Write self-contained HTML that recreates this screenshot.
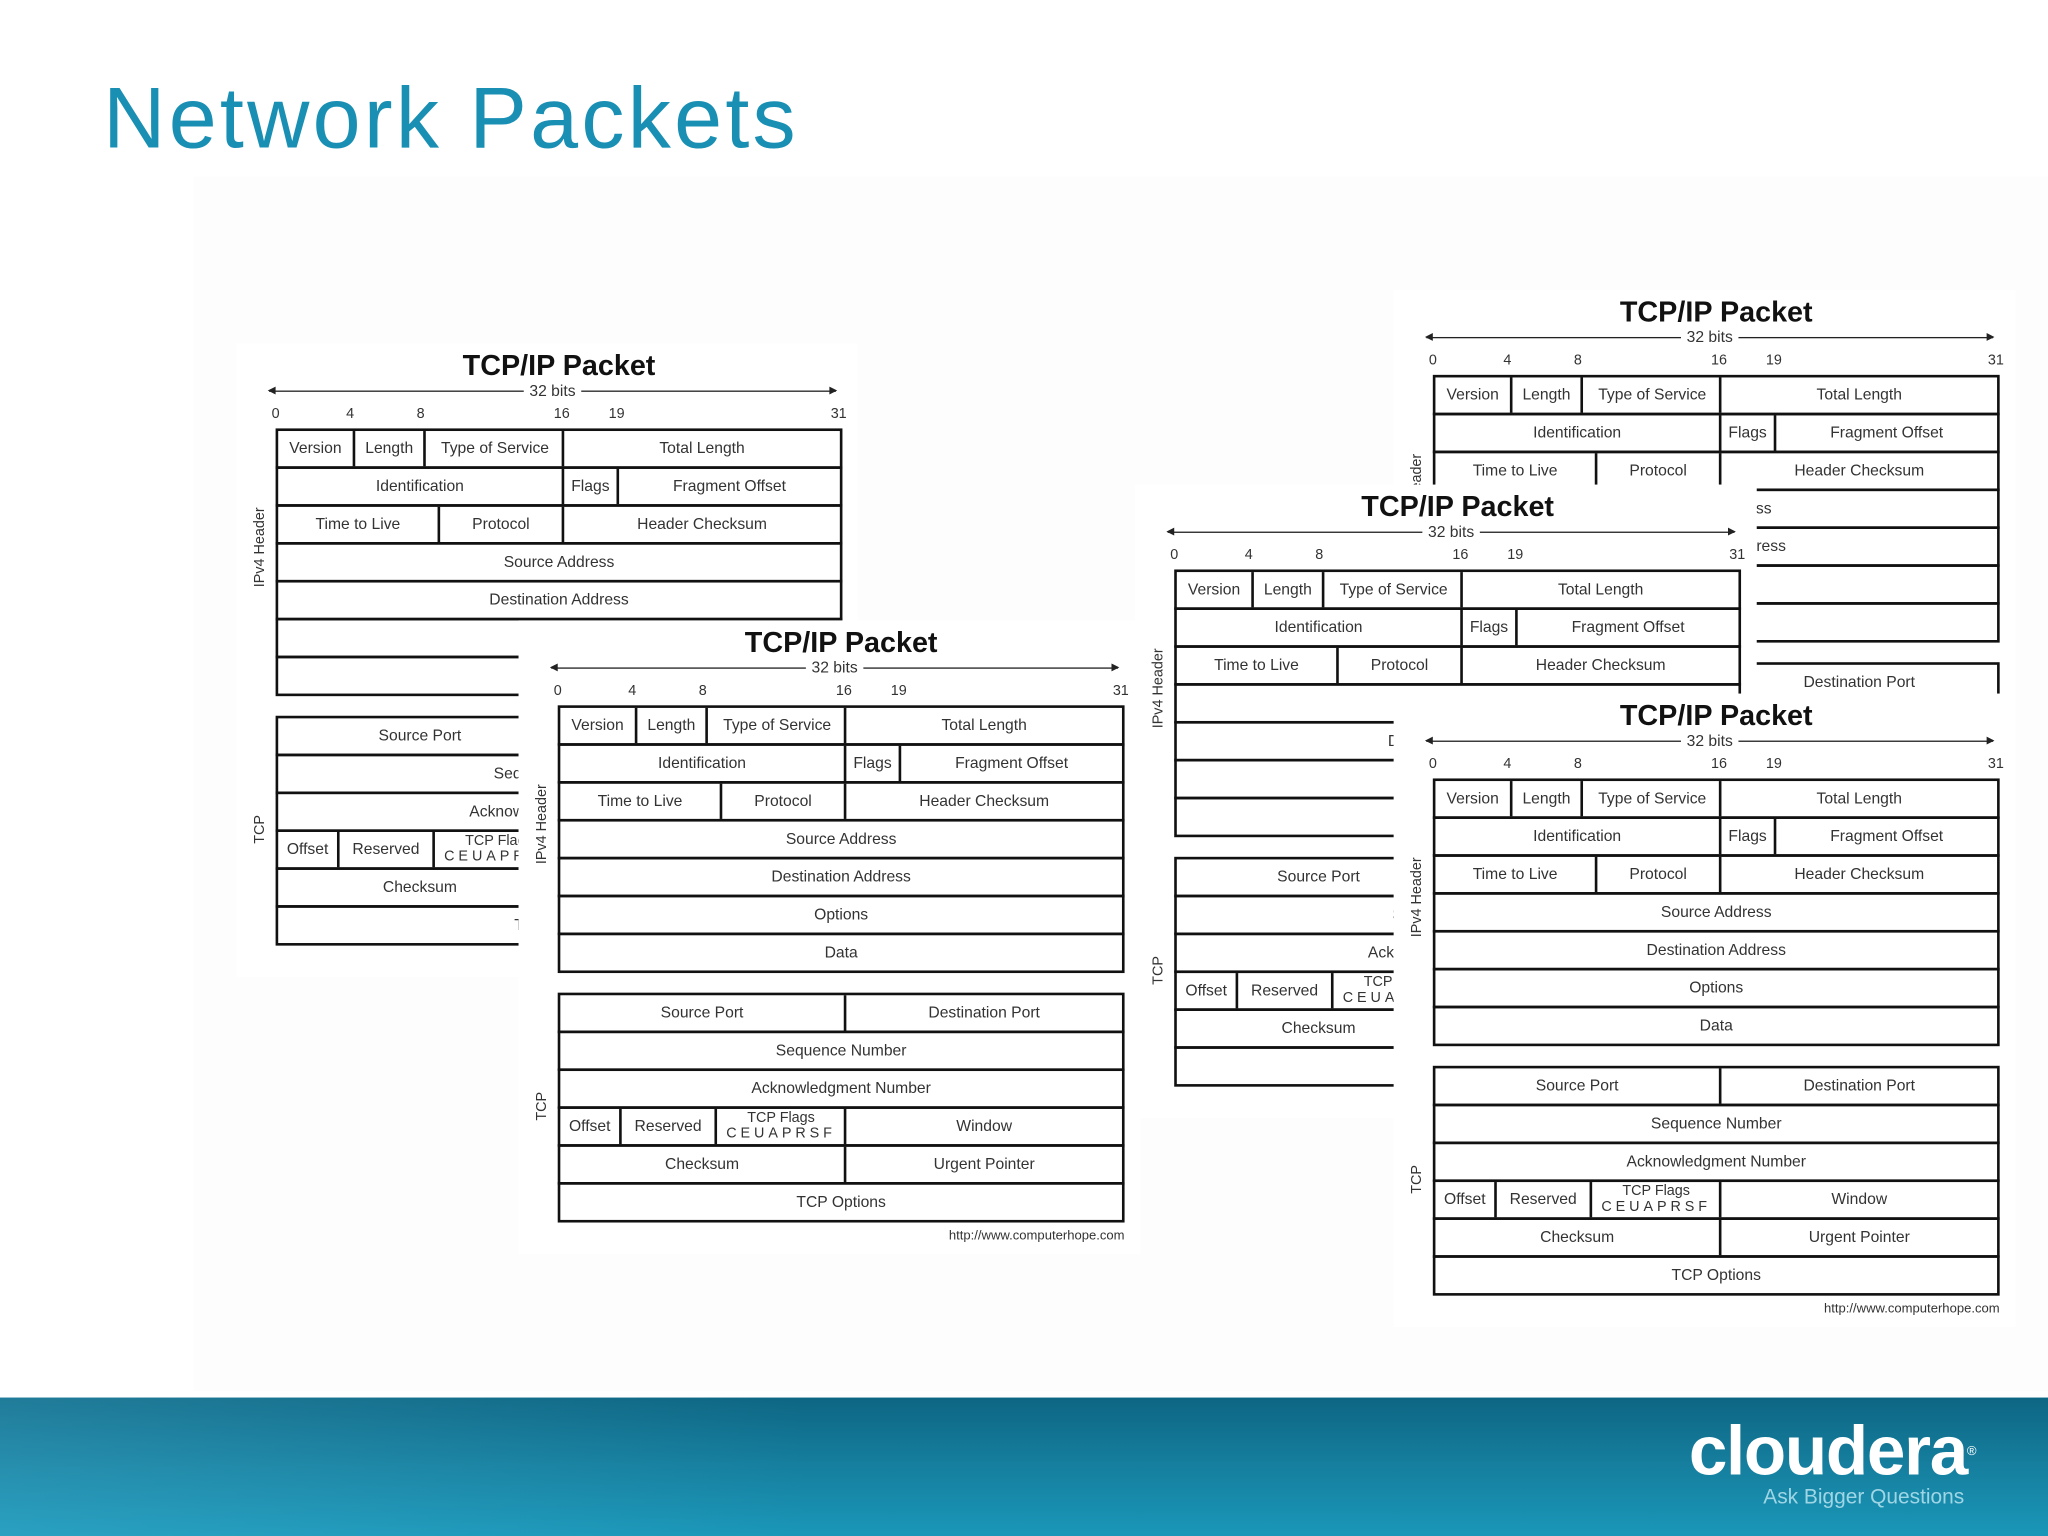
<!DOCTYPE html>
<html><head><meta charset="utf-8">
<style>
html,body{margin:0;padding:0;background:#fff;}
body{width:2048px;height:1536px;overflow:hidden;position:relative;}
#s{position:absolute;left:0;top:0;width:1568px;height:1176px;transform:scale(1.306122);transform-origin:0 0;font-family:"Liberation Sans",Arial,sans-serif;}
h1{position:absolute;left:79px;top:52px;margin:0;font-weight:normal;font-size:66px;letter-spacing:2.5px;line-height:76px;color:#1a8fb4;}
.bg{position:absolute;left:148px;top:135px;width:1420px;height:930px;background:#fdfdfe;}
.p{position:absolute;width:476px;height:485px;background:#fff;color:#333;}
.t{position:absolute;left:30px;top:4px;width:434px;text-align:center;font-weight:bold;font-size:22px;line-height:26px;color:#111;}
.ar{position:absolute;left:25px;top:36px;width:434px;height:0;border-top:1px solid #222;}
.ar:before{content:"";position:absolute;left:-1px;top:-4px;border:3px solid transparent;border-right:6px solid #222;border-left:0;}
.ar:after{content:"";position:absolute;right:-1px;top:-4px;border:3px solid transparent;border-left:6px solid #222;border-right:0;}
.ab{position:absolute;left:0;top:29px;width:484px;text-align:center;font-size:12px;line-height:14px;}
.ab span{background:#fff;padding:0 4px;}
.b{position:absolute;top:48px;font-size:11px;line-height:12px;}
.r{position:absolute;left:30px;width:434px;height:31px;box-sizing:border-box;border:2px solid #111;}
.c{position:absolute;top:0;height:27px;line-height:27px;text-align:center;font-size:12px;white-space:nowrap;overflow:hidden;box-sizing:border-box;}
.c.l{border-left:2px solid #111;}
.v{position:absolute;font-size:11px;transform:rotate(-90deg);transform-origin:center;white-space:nowrap;text-align:center;width:120px;left:-42px;}
.u{position:absolute;right:12px;top:466px;font-size:10px;}
.fl{line-height:12px;font-size:11px;padding-top:1px;}
.fl div{font-size:11px;letter-spacing:3px;}
.ft{position:absolute;left:0;top:1070px;width:1568px;height:106px;background:linear-gradient(180deg,#0d6683,#167f9f 50%,#1a97b8);}
.pat{position:absolute;left:0;top:0;width:620px;height:106px;background:linear-gradient(90deg,rgba(90,190,220,.25),rgba(90,190,220,0));}
.lg{position:absolute;left:1293px;top:1081px;color:#fff;font-weight:bold;font-size:53px;line-height:62px;letter-spacing:-1px;}
.tg{position:absolute;left:1350px;top:1137px;color:#9fd6e6;font-size:16px;line-height:20px;}
</style></head><body><div id="s">
<h1>Network Packets</h1>
<div class="bg"></div>

<!-- P4 top right -->
<div class="p" style="left:1067px;top:222px">
<div class="t">TCP/IP Packet</div><div class="ar"></div><div class="ab"><span>32 bits</span></div>
<div class="b" style="left:27px">0</div><div class="b" style="left:84px">4</div><div class="b" style="left:138px">8</div><div class="b" style="left:243px">16</div><div class="b" style="left:285px">19</div><div class="b" style="left:455px">31</div>
<div class="v" style="top:150px">IPv4 Header</div><div class="v" style="top:366px">TCP</div>
<div class="r" style="top:65px"><div class="c" style="left:0;width:57px">Version</div><div class="c l" style="left:57px;width:54px">Length</div><div class="c l" style="left:111px;width:108px">Type of Service</div><div class="c l" style="left:217px;width:213px">Total Length</div></div>
<div class="r" style="top:94px"><div class="c" style="left:0;width:217px">Identification</div><div class="c l" style="left:217px;width:42px">Flags</div><div class="c l" style="left:259px;width:171px">Fragment Offset</div></div>
<div class="r" style="top:123px"><div class="c" style="left:0;width:122px">Time to Live</div><div class="c l" style="left:122px;width:95px">Protocol</div><div class="c l" style="left:217px;width:213px">Header Checksum</div></div>
<div class="r" style="top:152px"><div class="c" style="left:0;width:430px">Source Address</div></div>
<div class="r" style="top:181px"><div class="c" style="left:0;width:430px">Destination Address</div></div>
<div class="r" style="top:210px"><div class="c" style="left:0;width:430px">Options</div></div>
<div class="r" style="top:239px"><div class="c" style="left:0;width:430px">Data</div></div>
<div class="r" style="top:285px"><div class="c" style="left:0;width:217px">Source Port</div><div class="c l" style="left:217px;width:213px">Destination Port</div></div>
<div class="r" style="top:314px"><div class="c" style="left:0;width:430px">Sequence Number</div></div>
<div class="r" style="top:343px"><div class="c" style="left:0;width:430px">Acknowledgment Number</div></div>
<div class="r" style="top:372px"><div class="c" style="left:0;width:45px">Offset</div><div class="c l" style="left:45px;width:73px">Reserved</div><div class="c l fl" style="left:118px;width:100px">TCP Flags<div>CEUAPRSF</div></div><div class="c l" style="left:217px;width:213px">Window</div></div>
<div class="r" style="top:401px"><div class="c" style="left:0;width:217px">Checksum</div><div class="c l" style="left:217px;width:213px">Urgent Pointer</div></div>
<div class="r" style="top:430px"><div class="c" style="left:0;width:430px">TCP Options</div></div>
<div class="u">http://www.computerhope.com</div>
</div>

<!-- P3 middle right -->
<div class="p" style="left:869px;top:371px">
<div class="t">TCP/IP Packet</div><div class="ar"></div><div class="ab"><span>32 bits</span></div>
<div class="b" style="left:27px">0</div><div class="b" style="left:84px">4</div><div class="b" style="left:138px">8</div><div class="b" style="left:243px">16</div><div class="b" style="left:285px">19</div><div class="b" style="left:455px">31</div>
<div class="v" style="top:150px">IPv4 Header</div><div class="v" style="top:366px">TCP</div>
<div class="r" style="top:65px"><div class="c" style="left:0;width:57px">Version</div><div class="c l" style="left:57px;width:54px">Length</div><div class="c l" style="left:111px;width:108px">Type of Service</div><div class="c l" style="left:217px;width:213px">Total Length</div></div>
<div class="r" style="top:94px"><div class="c" style="left:0;width:217px">Identification</div><div class="c l" style="left:217px;width:42px">Flags</div><div class="c l" style="left:259px;width:171px">Fragment Offset</div></div>
<div class="r" style="top:123px"><div class="c" style="left:0;width:122px">Time to Live</div><div class="c l" style="left:122px;width:95px">Protocol</div><div class="c l" style="left:217px;width:213px">Header Checksum</div></div>
<div class="r" style="top:152px"><div class="c" style="left:0;width:430px">Source Address</div></div>
<div class="r" style="top:181px"><div class="c" style="left:0;width:430px">Destination Address</div></div>
<div class="r" style="top:210px"><div class="c" style="left:0;width:430px">Options</div></div>
<div class="r" style="top:239px"><div class="c" style="left:0;width:430px">Data</div></div>
<div class="r" style="top:285px"><div class="c" style="left:0;width:217px">Source Port</div><div class="c l" style="left:217px;width:213px">Destination Port</div></div>
<div class="r" style="top:314px"><div class="c" style="left:0;width:430px">Sequence Number</div></div>
<div class="r" style="top:343px"><div class="c" style="left:0;width:430px">Acknowledgment Number</div></div>
<div class="r" style="top:372px"><div class="c" style="left:0;width:45px">Offset</div><div class="c l" style="left:45px;width:73px">Reserved</div><div class="c l fl" style="left:118px;width:100px">TCP Flags<div>CEUAPRSF</div></div><div class="c l" style="left:217px;width:213px">Window</div></div>
<div class="r" style="top:401px"><div class="c" style="left:0;width:217px">Checksum</div><div class="c l" style="left:217px;width:213px">Urgent Pointer</div></div>
<div class="r" style="top:430px"><div class="c" style="left:0;width:430px">TCP Options</div></div>
<div class="u">http://www.computerhope.com</div>
</div>

<!-- P5 bottom right -->
<div class="p" style="left:1067px;top:531px">
<div class="t">TCP/IP Packet</div><div class="ar"></div><div class="ab"><span>32 bits</span></div>
<div class="b" style="left:27px">0</div><div class="b" style="left:84px">4</div><div class="b" style="left:138px">8</div><div class="b" style="left:243px">16</div><div class="b" style="left:285px">19</div><div class="b" style="left:455px">31</div>
<div class="v" style="top:150px">IPv4 Header</div><div class="v" style="top:366px">TCP</div>
<div class="r" style="top:65px"><div class="c" style="left:0;width:57px">Version</div><div class="c l" style="left:57px;width:54px">Length</div><div class="c l" style="left:111px;width:108px">Type of Service</div><div class="c l" style="left:217px;width:213px">Total Length</div></div>
<div class="r" style="top:94px"><div class="c" style="left:0;width:217px">Identification</div><div class="c l" style="left:217px;width:42px">Flags</div><div class="c l" style="left:259px;width:171px">Fragment Offset</div></div>
<div class="r" style="top:123px"><div class="c" style="left:0;width:122px">Time to Live</div><div class="c l" style="left:122px;width:95px">Protocol</div><div class="c l" style="left:217px;width:213px">Header Checksum</div></div>
<div class="r" style="top:152px"><div class="c" style="left:0;width:430px">Source Address</div></div>
<div class="r" style="top:181px"><div class="c" style="left:0;width:430px">Destination Address</div></div>
<div class="r" style="top:210px"><div class="c" style="left:0;width:430px">Options</div></div>
<div class="r" style="top:239px"><div class="c" style="left:0;width:430px">Data</div></div>
<div class="r" style="top:285px"><div class="c" style="left:0;width:217px">Source Port</div><div class="c l" style="left:217px;width:213px">Destination Port</div></div>
<div class="r" style="top:314px"><div class="c" style="left:0;width:430px">Sequence Number</div></div>
<div class="r" style="top:343px"><div class="c" style="left:0;width:430px">Acknowledgment Number</div></div>
<div class="r" style="top:372px"><div class="c" style="left:0;width:45px">Offset</div><div class="c l" style="left:45px;width:73px">Reserved</div><div class="c l fl" style="left:118px;width:100px">TCP Flags<div>CEUAPRSF</div></div><div class="c l" style="left:217px;width:213px">Window</div></div>
<div class="r" style="top:401px"><div class="c" style="left:0;width:217px">Checksum</div><div class="c l" style="left:217px;width:213px">Urgent Pointer</div></div>
<div class="r" style="top:430px"><div class="c" style="left:0;width:430px">TCP Options</div></div>
<div class="u">http://www.computerhope.com</div>
</div>

<!-- P1 top left -->
<div class="p" style="left:181px;top:263px">
<div class="t">TCP/IP Packet</div><div class="ar"></div><div class="ab"><span>32 bits</span></div>
<div class="b" style="left:27px">0</div><div class="b" style="left:84px">4</div><div class="b" style="left:138px">8</div><div class="b" style="left:243px">16</div><div class="b" style="left:285px">19</div><div class="b" style="left:455px">31</div>
<div class="v" style="top:150px">IPv4 Header</div><div class="v" style="top:366px">TCP</div>
<div class="r" style="top:65px"><div class="c" style="left:0;width:57px">Version</div><div class="c l" style="left:57px;width:54px">Length</div><div class="c l" style="left:111px;width:108px">Type of Service</div><div class="c l" style="left:217px;width:213px">Total Length</div></div>
<div class="r" style="top:94px"><div class="c" style="left:0;width:217px">Identification</div><div class="c l" style="left:217px;width:42px">Flags</div><div class="c l" style="left:259px;width:171px">Fragment Offset</div></div>
<div class="r" style="top:123px"><div class="c" style="left:0;width:122px">Time to Live</div><div class="c l" style="left:122px;width:95px">Protocol</div><div class="c l" style="left:217px;width:213px">Header Checksum</div></div>
<div class="r" style="top:152px"><div class="c" style="left:0;width:430px">Source Address</div></div>
<div class="r" style="top:181px"><div class="c" style="left:0;width:430px">Destination Address</div></div>
<div class="r" style="top:210px"><div class="c" style="left:0;width:430px">Options</div></div>
<div class="r" style="top:239px"><div class="c" style="left:0;width:430px">Data</div></div>
<div class="r" style="top:285px"><div class="c" style="left:0;width:217px">Source Port</div><div class="c l" style="left:217px;width:213px">Destination Port</div></div>
<div class="r" style="top:314px"><div class="c" style="left:0;width:430px">Sequence Number</div></div>
<div class="r" style="top:343px"><div class="c" style="left:0;width:430px">Acknowledgment Number</div></div>
<div class="r" style="top:372px"><div class="c" style="left:0;width:45px">Offset</div><div class="c l" style="left:45px;width:73px">Reserved</div><div class="c l fl" style="left:118px;width:100px">TCP Flags<div>CEUAPRSF</div></div><div class="c l" style="left:217px;width:213px">Window</div></div>
<div class="r" style="top:401px"><div class="c" style="left:0;width:217px">Checksum</div><div class="c l" style="left:217px;width:213px">Urgent Pointer</div></div>
<div class="r" style="top:430px"><div class="c" style="left:0;width:430px">TCP Options</div></div>
<div class="u">http://www.computerhope.com</div>
</div>

<!-- P2 middle left -->
<div class="p" style="left:397px;top:475px">
<div class="t">TCP/IP Packet</div><div class="ar"></div><div class="ab"><span>32 bits</span></div>
<div class="b" style="left:27px">0</div><div class="b" style="left:84px">4</div><div class="b" style="left:138px">8</div><div class="b" style="left:243px">16</div><div class="b" style="left:285px">19</div><div class="b" style="left:455px">31</div>
<div class="v" style="top:150px">IPv4 Header</div><div class="v" style="top:366px">TCP</div>
<div class="r" style="top:65px"><div class="c" style="left:0;width:57px">Version</div><div class="c l" style="left:57px;width:54px">Length</div><div class="c l" style="left:111px;width:108px">Type of Service</div><div class="c l" style="left:217px;width:213px">Total Length</div></div>
<div class="r" style="top:94px"><div class="c" style="left:0;width:217px">Identification</div><div class="c l" style="left:217px;width:42px">Flags</div><div class="c l" style="left:259px;width:171px">Fragment Offset</div></div>
<div class="r" style="top:123px"><div class="c" style="left:0;width:122px">Time to Live</div><div class="c l" style="left:122px;width:95px">Protocol</div><div class="c l" style="left:217px;width:213px">Header Checksum</div></div>
<div class="r" style="top:152px"><div class="c" style="left:0;width:430px">Source Address</div></div>
<div class="r" style="top:181px"><div class="c" style="left:0;width:430px">Destination Address</div></div>
<div class="r" style="top:210px"><div class="c" style="left:0;width:430px">Options</div></div>
<div class="r" style="top:239px"><div class="c" style="left:0;width:430px">Data</div></div>
<div class="r" style="top:285px"><div class="c" style="left:0;width:217px">Source Port</div><div class="c l" style="left:217px;width:213px">Destination Port</div></div>
<div class="r" style="top:314px"><div class="c" style="left:0;width:430px">Sequence Number</div></div>
<div class="r" style="top:343px"><div class="c" style="left:0;width:430px">Acknowledgment Number</div></div>
<div class="r" style="top:372px"><div class="c" style="left:0;width:45px">Offset</div><div class="c l" style="left:45px;width:73px">Reserved</div><div class="c l fl" style="left:118px;width:100px">TCP Flags<div>CEUAPRSF</div></div><div class="c l" style="left:217px;width:213px">Window</div></div>
<div class="r" style="top:401px"><div class="c" style="left:0;width:217px">Checksum</div><div class="c l" style="left:217px;width:213px">Urgent Pointer</div></div>
<div class="r" style="top:430px"><div class="c" style="left:0;width:430px">TCP Options</div></div>
<div class="u">http://www.computerhope.com</div>
</div>

<div class="ft"><div class="pat"></div></div>
<div class="lg">cloudera<span style="font-size:10px;vertical-align:top;font-weight:normal">®</span></div>
<div class="tg">Ask Bigger Questions</div>
</div></body></html>
